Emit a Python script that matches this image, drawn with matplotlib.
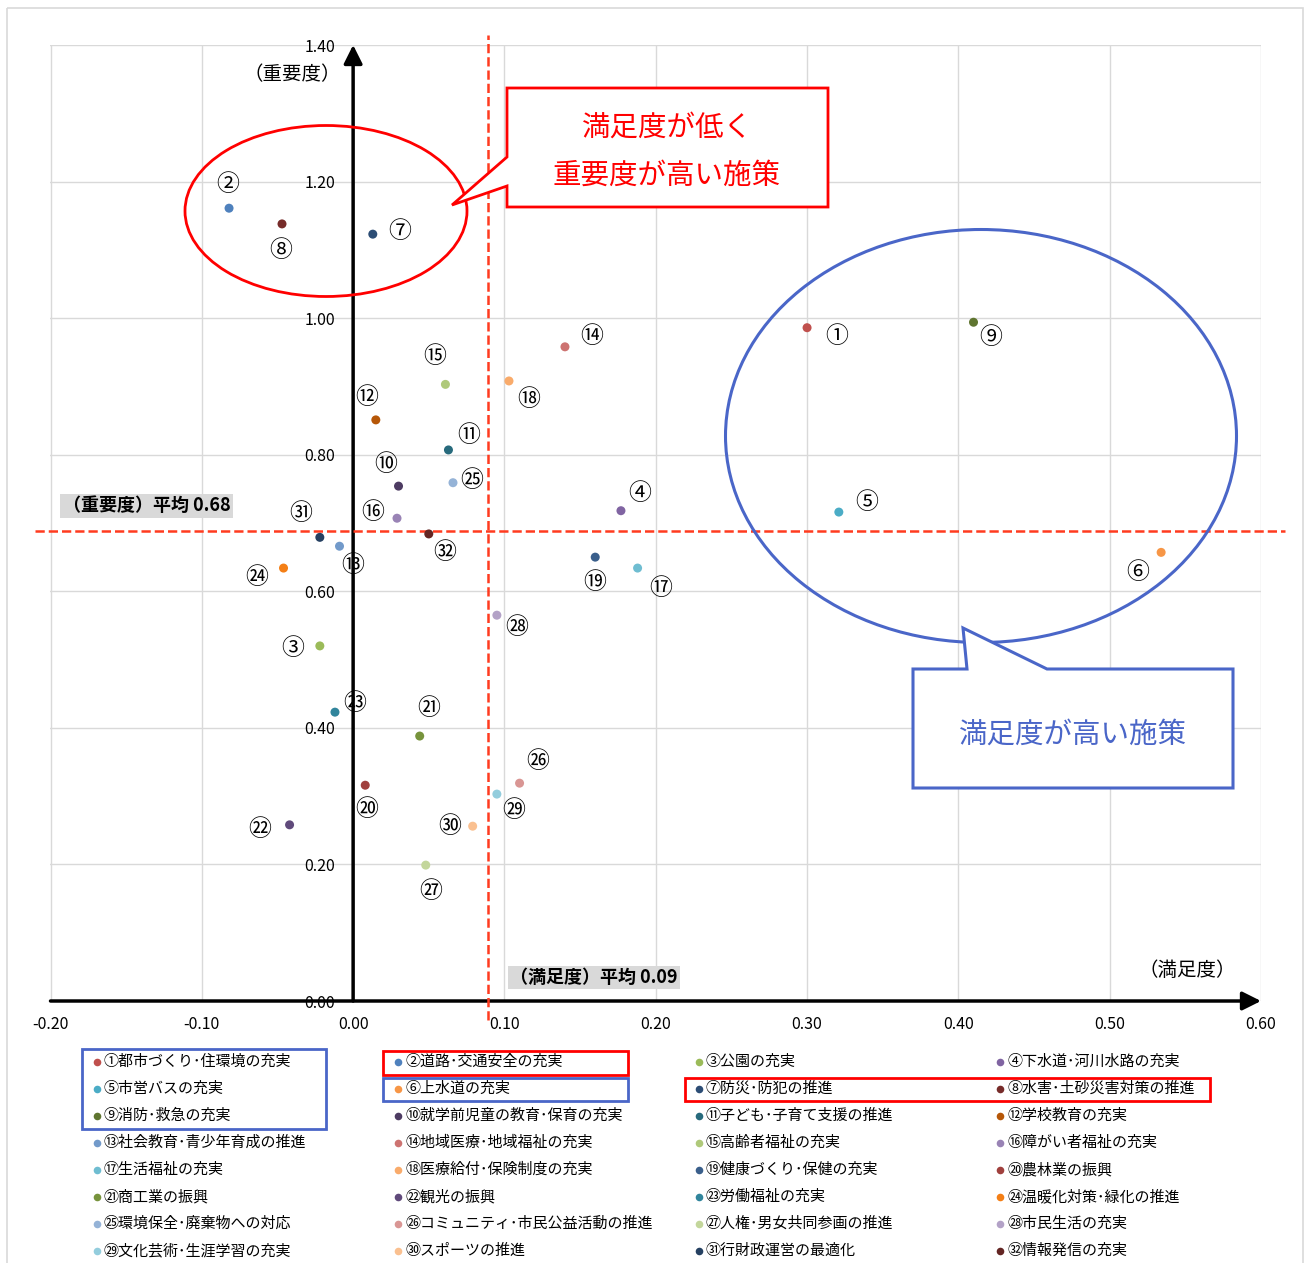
import numpy as np
import matplotlib.pyplot as plt
from matplotlib.patches import Ellipse, Polygon, Rectangle

plt.rcParams['font.family'] = ['Noto Sans CJK JP', 'DejaVu Sans']

# データ
labels = ['①', '②', '③', '④', '⑤', '⑥', '⑦', '⑧', '⑨', '⑩', '⑪', '⑫', '⑬', '⑭', '⑮', '⑯',
          '⑰', '⑱', '⑲', '⑳', '㉑', '㉒', '㉓', '㉔', '㉕', '㉖', '㉗', '㉘', '㉙', '㉚', '㉛', '㉜']
names = ['都市づくり･住環境の充実', '道路･交通安全の充実', '公園の充実', '下水道･河川水路の充実',
         '市営バスの充実', '上水道の充実', '防災･防犯の推進', '水害･土砂災害対策の推進',
         '消防･救急の充実', '就学前児童の教育･保育の充実', '子ども･子育て支援の推進', '学校教育の充実',
         '社会教育･青少年育成の推進', '地域医療･地域福祉の充実', '高齢者福祉の充実', '障がい者福祉の充実',
         '生活福祉の充実', '医療給付･保険制度の充実', '健康づくり･保健の充実', '農林業の振興',
         '商工業の振興', '観光の振興', '労働福祉の充実', '温暖化対策･緑化の推進',
         '環境保全･廃棄物への対応', 'コミュニティ･市民公益活動の推進', '人権･男女共同参画の推進', '市民生活の充実',
         '文化芸術･生涯学習の充実', 'スポーツの推進', '行財政運営の最適化', '情報発信の充実']
satisfaction = [0.300, -0.082, -0.022, 0.177, 0.321, 0.534, 0.013, -0.047,
                0.410, 0.030, 0.063, 0.015, -0.009, 0.140, 0.061, 0.029,
                0.188, 0.103, 0.160, 0.008, 0.044, -0.042, -0.012, -0.046,
                0.066, 0.110, 0.048, 0.095, 0.095, 0.079, -0.022, 0.050]
importance = [0.986, 1.161, 0.520, 0.718, 0.716, 0.657, 1.123, 1.138,
              0.994, 0.754, 0.807, 0.851, 0.666, 0.958, 0.903, 0.707,
              0.634, 0.908, 0.650, 0.316, 0.388, 0.258, 0.423, 0.634,
              0.759, 0.319, 0.199, 0.565, 0.303, 0.256, 0.679, 0.684]
avg_sat = 0.089
avg_imp = 0.688
avg_sat_text = '（満足度）平均 0.09'
avg_imp_text = '（重要度）平均 0.68'
xticks = [-0.2, -0.1, 0.0, 0.1, 0.2, 0.3, 0.4, 0.5, 0.6]
yticks = [0.0, 0.2, 0.4, 0.6, 0.8, 1.0, 1.2, 1.4]

colors = ['#C0504D', '#4F81BD', '#9BBB59', '#8064A2', '#4BACC6', '#F79646', '#2C4D75', '#772C2A',
          '#5F7530', '#4D3B62', '#276A7C', '#B65708', '#729ACA', '#CD7371', '#AFC97A', '#9983B5',
          '#6FBDD1', '#F9AB6B', '#3A5F8B', '#A0403D', '#77933C', '#604A7B', '#31859C', '#F47F16',
          '#95B3D7', '#D99694', '#C3D69B', '#B3A2C7', '#93CDDD', '#FAC090', '#254061', '#632523']
# ラベルの位置（点からのずれ, px, 下向き正）
offsets = [(30, 9), (-1, -24), (-27, 3), (19, -17), (28, -10), (-23, 20), (27, -3), (-1, 27),
           (17, 15), (-13, -22), (20, -14), (-9, -22), (13, 19), (27, -10), (-11, -28), (-24, -6),
           (23, 20), (20, 19), (-1, 25), (1, 24), (9, -28), (-30, 5), (20, -9), (-27, 9),
           (19, -2), (18, -22), (5, 26), (20, 12), (17, 16), (-23, 0), (-19, -24), (16, 19)]

W, H = 1307, 1263
fig = plt.figure(figsize=(W / 100, H / 100), dpi=100)
ax = fig.add_axes([50.5 / W, 1 - 1001 / H, 1210.5 / W, 956 / H])
ax.set_xlim(-0.2, 0.6)
ax.set_ylim(0, 1.4)
ax.set_xticks(xticks)
ax.set_yticks(yticks)
ax.set_xticklabels([f'{v:.2f}' for v in xticks])
ax.set_yticklabels([f'{v:.2f}' for v in yticks])
ax.grid(True, color='#D9D9D9', lw=1)
ax.set_axisbelow(True)
for s in ['top', 'right']:
    ax.spines[s].set_visible(False)
ax.spines['left'].set_position(('data', 0))
ax.spines['bottom'].set_position(('data', 0))
ax.spines['left'].set_visible(False)
ax.spines['bottom'].set_visible(False)
ax.tick_params(axis='y', length=0, pad=13, labelsize=11.5)
ax.tick_params(axis='x', length=0, pad=11, labelsize=11.5)

# 軸（矢印）
ax.annotate('', xy=(0, 1.4), xytext=(0, 0),
            arrowprops=dict(arrowstyle='-|>', lw=2.5, color='black', mutation_scale=28,
                            shrinkA=0, shrinkB=0), annotation_clip=False)
ax.annotate('', xy=(0.6, 0), xytext=(-0.2, 0),
            arrowprops=dict(arrowstyle='-|>', lw=2.5, color='black', mutation_scale=28,
                            shrinkA=0, shrinkB=0), annotation_clip=False)

# 平均線
ax.plot([avg_sat, avg_sat], [-0.028, 1.414], ls='--', color='#FF3B1F', lw=1.8, clip_on=False, zorder=3)
ax.plot([-0.21, 0.616], [avg_imp, avg_imp], ls='--', color='#FF3B1F', lw=1.8, clip_on=False, zorder=3)

ax.scatter(satisfaction, importance, c=colors, s=42, zorder=5, linewidths=0)
for lab, x, y, (dx, dy) in zip(labels, satisfaction, importance, offsets):
    ax.annotate(lab, (x, y), xytext=(dx, -dy), textcoords='offset pixels',
                ha='center', va='center', fontsize=16.5, zorder=6)

ax.text(-0.040, 1.356, '（重要度）', ha='center', va='center', fontsize=14)
ax.text(0.551, 0.045, '（満足度）', ha='center', va='center', fontsize=14)
ax.text(-0.192, 0.725, avg_imp_text, ha='left', va='center', fontsize=13, fontweight='bold',
        bbox=dict(facecolor='#D9D9D9', edgecolor='none', pad=1.5))
ax.text(0.104, 0.034, avg_sat_text, ha='left', va='center', fontsize=13, fontweight='bold',
        bbox=dict(facecolor='#D9D9D9', edgecolor='none', pad=1.5))

# 図形（ピクセル座標のオーバーレイ）
ov = fig.add_axes([0, 0, 1, 1])
ov.set_xlim(0, W)
ov.set_ylim(H, 0)
ov.axis('off')
ov.patch.set_visible(False)

ov.add_patch(Rectangle((7, 8), 1296, 1300, fill=False, edgecolor='#D9D9D9', lw=1.2))

red = '#FF0000'
blue = '#4A66C8'
ov.add_patch(Ellipse((326, 211), 282, 171, fill=False, edgecolor=red, lw=2))
ov.add_patch(Polygon([(507, 88), (828, 88), (828, 207), (507, 207), (507, 186), (452, 205), (507, 157)],
                     closed=True, facecolor='white', edgecolor=red, lw=2))
ov.text(667, 128, '満足度が低く', color=red, fontsize=20.5, ha='center', va='center')
ov.text(667, 176, '重要度が高い施策', color=red, fontsize=20.5, ha='center', va='center')

ov.add_patch(Ellipse((981, 436), 511, 413, fill=False, edgecolor=blue, lw=2.2))
ov.add_patch(Polygon([(913, 669), (967, 669), (963, 628), (1047, 669), (1233, 669), (1233, 788), (913, 788)],
                     closed=True, facecolor='white', edgecolor=blue, lw=2.2))
ov.text(1073, 735, '満足度が高い施策', color=blue, fontsize=20.5, ha='center', va='center')

# 凡例
col_x = [97, 398, 699, 1000]
row_y0, row_h = 1062, 27
for i, (lab, name, c) in enumerate(zip(labels, names, colors)):
    cx = col_x[i % 4]
    cy = row_y0 + row_h * (i // 4)
    ov.scatter([cx], [cy], s=30, color=c, linewidths=0)
    ov.text(cx + 7, cy, lab + name, ha='left', va='center', fontsize=10.8)

ov.add_patch(Rectangle((82, 1049), 244, 80, fill=False, edgecolor=blue, lw=2))
ov.add_patch(Rectangle((383, 1051), 245, 24, fill=False, edgecolor=red, lw=2))
ov.add_patch(Rectangle((383, 1078), 245, 23, fill=False, edgecolor=blue, lw=2))
ov.add_patch(Rectangle((685, 1078), 525, 23, fill=False, edgecolor=red, lw=2))

fig.savefig('out.png', dpi=100)
